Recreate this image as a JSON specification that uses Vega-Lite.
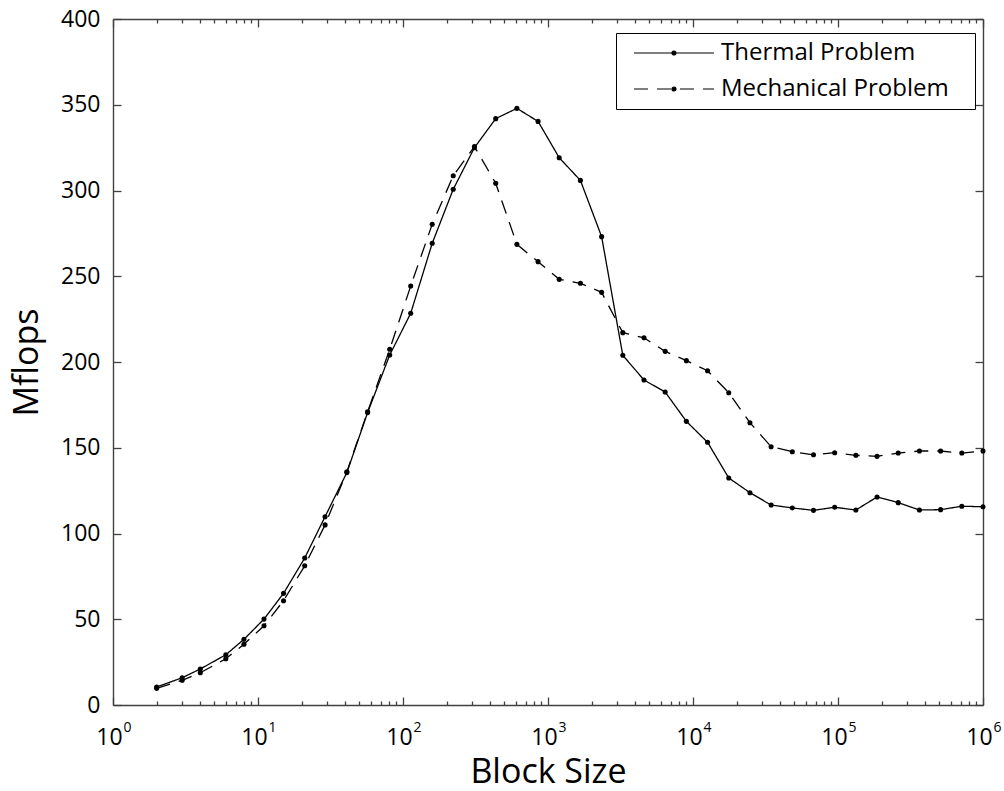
{
  "$schema": "https://vega.github.io/schema/vega-lite/v6.json",
  "autosize": {"type": "none"},
  "width": 870,
  "height": 686,
  "padding": {"left": 113, "top": 19, "right": 21, "bottom": 86},
  "background": "white",
  "config": {
    "view": {"stroke": null},
    "axis": {
      "grid": false,
      "domainColor": "#404040",
      "tickColor": "#404040",
      "domainWidth": 1.4,
      "tickWidth": 1.3,
      "labelFont": "Open Sans",
      "labelFontSize": 23,
      "labelColor": "black",
      "titleFont": "Open Sans",
      "titleFontSize": 34,
      "titleFontWeight": "normal",
      "titleColor": "black",
      "labelFlush": false,
      "labelOverlap": false,
      "labelBound": false
    }
  },
  "data": {
    "values": [
      {"size": 2, "series": "Thermal Problem", "mflops": 10.5},
      {"size": 3, "series": "Thermal Problem", "mflops": 15.9},
      {"size": 4, "series": "Thermal Problem", "mflops": 21.0},
      {"size": 6, "series": "Thermal Problem", "mflops": 29.3},
      {"size": 8, "series": "Thermal Problem", "mflops": 38.3},
      {"size": 11, "series": "Thermal Problem", "mflops": 50.1},
      {"size": 15, "series": "Thermal Problem", "mflops": 65.1},
      {"size": 21, "series": "Thermal Problem", "mflops": 85.7},
      {"size": 29, "series": "Thermal Problem", "mflops": 109.8},
      {"size": 41, "series": "Thermal Problem", "mflops": 135.5},
      {"size": 57, "series": "Thermal Problem", "mflops": 170.5},
      {"size": 81, "series": "Thermal Problem", "mflops": 204.1},
      {"size": 113, "series": "Thermal Problem", "mflops": 228.4},
      {"size": 159, "series": "Thermal Problem", "mflops": 269.2},
      {"size": 222, "series": "Thermal Problem", "mflops": 300.7},
      {"size": 311, "series": "Thermal Problem", "mflops": 325.0},
      {"size": 436, "series": "Thermal Problem", "mflops": 341.9},
      {"size": 610, "series": "Thermal Problem", "mflops": 347.9},
      {"size": 854, "series": "Thermal Problem", "mflops": 340.3},
      {"size": 1195, "series": "Thermal Problem", "mflops": 319.1},
      {"size": 1673, "series": "Thermal Problem", "mflops": 305.9},
      {"size": 2343, "series": "Thermal Problem", "mflops": 273.1},
      {"size": 3280, "series": "Thermal Problem", "mflops": 203.9},
      {"size": 4592, "series": "Thermal Problem", "mflops": 189.5},
      {"size": 6428, "series": "Thermal Problem", "mflops": 182.5},
      {"size": 9000, "series": "Thermal Problem", "mflops": 165.4},
      {"size": 12599, "series": "Thermal Problem", "mflops": 153.2},
      {"size": 17639, "series": "Thermal Problem", "mflops": 132.4},
      {"size": 24695, "series": "Thermal Problem", "mflops": 123.8},
      {"size": 34573, "series": "Thermal Problem", "mflops": 116.6},
      {"size": 48402, "series": "Thermal Problem", "mflops": 114.9},
      {"size": 67763, "series": "Thermal Problem", "mflops": 113.5},
      {"size": 94868, "series": "Thermal Problem", "mflops": 115.3},
      {"size": 132815, "series": "Thermal Problem", "mflops": 113.7},
      {"size": 185941, "series": "Thermal Problem", "mflops": 121.3},
      {"size": 260317, "series": "Thermal Problem", "mflops": 118.0},
      {"size": 364444, "series": "Thermal Problem", "mflops": 113.7},
      {"size": 510222, "series": "Thermal Problem", "mflops": 113.9},
      {"size": 714310, "series": "Thermal Problem", "mflops": 115.9},
      {"size": 1000000, "series": "Thermal Problem", "mflops": 115.6},
      {"size": 2, "series": "Mechanical Problem", "mflops": 9.7},
      {"size": 3, "series": "Mechanical Problem", "mflops": 14.4},
      {"size": 4, "series": "Mechanical Problem", "mflops": 18.8},
      {"size": 6, "series": "Mechanical Problem", "mflops": 27.0},
      {"size": 8, "series": "Mechanical Problem", "mflops": 35.4},
      {"size": 11, "series": "Mechanical Problem", "mflops": 46.2},
      {"size": 15, "series": "Mechanical Problem", "mflops": 60.8},
      {"size": 21, "series": "Mechanical Problem", "mflops": 81.2},
      {"size": 29, "series": "Mechanical Problem", "mflops": 105.0},
      {"size": 41, "series": "Mechanical Problem", "mflops": 136.0},
      {"size": 57, "series": "Mechanical Problem", "mflops": 171.0},
      {"size": 81, "series": "Mechanical Problem", "mflops": 207.4},
      {"size": 113, "series": "Mechanical Problem", "mflops": 244.3},
      {"size": 159, "series": "Mechanical Problem", "mflops": 280.3},
      {"size": 222, "series": "Mechanical Problem", "mflops": 308.6},
      {"size": 311, "series": "Mechanical Problem", "mflops": 325.6},
      {"size": 436, "series": "Mechanical Problem", "mflops": 304.2},
      {"size": 610, "series": "Mechanical Problem", "mflops": 268.6},
      {"size": 854, "series": "Mechanical Problem", "mflops": 258.5},
      {"size": 1195, "series": "Mechanical Problem", "mflops": 248.2},
      {"size": 1673, "series": "Mechanical Problem", "mflops": 245.9},
      {"size": 2343, "series": "Mechanical Problem", "mflops": 240.6},
      {"size": 3280, "series": "Mechanical Problem", "mflops": 217.1},
      {"size": 4592, "series": "Mechanical Problem", "mflops": 214.1},
      {"size": 6428, "series": "Mechanical Problem", "mflops": 206.2},
      {"size": 9000, "series": "Mechanical Problem", "mflops": 200.8},
      {"size": 12599, "series": "Mechanical Problem", "mflops": 194.9},
      {"size": 17639, "series": "Mechanical Problem", "mflops": 182.1},
      {"size": 24695, "series": "Mechanical Problem", "mflops": 164.6},
      {"size": 34573, "series": "Mechanical Problem", "mflops": 150.6},
      {"size": 48402, "series": "Mechanical Problem", "mflops": 147.7},
      {"size": 67763, "series": "Mechanical Problem", "mflops": 145.9},
      {"size": 94868, "series": "Mechanical Problem", "mflops": 147.1},
      {"size": 132815, "series": "Mechanical Problem", "mflops": 145.6},
      {"size": 185941, "series": "Mechanical Problem", "mflops": 145.0},
      {"size": 260317, "series": "Mechanical Problem", "mflops": 146.9},
      {"size": 364444, "series": "Mechanical Problem", "mflops": 148.1},
      {"size": 510222, "series": "Mechanical Problem", "mflops": 148.1},
      {"size": 714310, "series": "Mechanical Problem", "mflops": 146.9},
      {"size": 1000000, "series": "Mechanical Problem", "mflops": 148.1}
    ]
  },
  "layer": [
    {
      "mark": {"type": "line", "color": "black", "strokeWidth": 1.3, "clip": false},
      "encoding": {
        "x": {
          "field": "size", "type": "quantitative",
          "scale": {"type": "log", "domain": [1, 1000000], "nice": false},
          "axis": {
            "orient": "bottom",
            "values": [1, 10, 100, 1000, 10000, 100000, 1000000],
            "labelExpr": "'10'",
            "ticks": false,
            "labelPadding": 21,
            "labelOffset": -4,
            "labelBaseline": "top",
            "title": "Block Size",
            "titlePadding": 6
          }
        },
        "y": {
          "field": "mflops", "type": "quantitative",
          "scale": {"domain": [0, 400], "nice": false},
          "axis": {
            "orient": "left",
            "values": [0, 50, 100, 150, 200, 250, 300, 350, 400],
            "ticks": false,
            "labelPadding": 13,
            "title": "Mflops",
            "titlePadding": 16
          }
        },
        "strokeDash": {
          "field": "series", "type": "nominal",
          "scale": {"domain": ["Thermal Problem", "Mechanical Problem"], "range": [[1, 0], [14, 9]]},
          "legend": {
            "orient": "none",
            "legendX": 503,
            "legendY": 14,
            "title": null,
            "strokeColor": "black",
            "fillColor": "white",
            "padding": 8,
            "labelFont": "Open Sans",
            "labelFontSize": 24,
            "labelColor": "black",
            "labelLimit": 500,
            "labelExpr": "datum.label + '\u2800'",
            "labelOffset": 73,
            "rowPadding": 12,
            "symbolType": "M-0.2,0L7.8,0M4,0A0.2,0.2 0 1,1 3.6,0A0.2,0.2 0 1,1 4,0",
            "symbolSize": 400,
            "symbolStrokeWidth": 1.2,
            "symbolStrokeColor": "black",
            "symbolFillColor": "black",
            "encode": {
              "symbols": {
                "update": {
                  "fill": {"value": "black"},
                  "stroke": {"value": "black"},
                  "strokeDash": {"signal": "datum.value === 'Mechanical Problem' ? [19, 42] : [1, 0]"}
                }
              }
            }
          }
        }
      }
    },
    {
      "mark": {"type": "point", "filled": true, "color": "black", "size": 26, "opacity": 1, "clip": false},
      "encoding": {
        "x": {
          "field": "size", "type": "quantitative",
          "axis": {
            "orient": "top",
            "offset": -686,
            "values": [1, 10, 100, 1000, 10000, 100000, 1000000],
            "tickSize": 8,
            "labels": false,
            "domain": false,
            "title": null
          }
        },
        "y": {
          "field": "mflops", "type": "quantitative",
          "axis": {
            "orient": "left",
            "offset": -8,
            "values": [0, 50, 100, 150, 200, 250, 300, 350, 400],
            "tickSize": 8,
            "labels": false,
            "domain": false,
            "title": null
          }
        }
      }
    },
    {
      "mark": {"type": "point", "opacity": 0},
      "encoding": {
        "x": {
          "field": "size", "type": "quantitative",
          "axis": {
            "orient": "top",
            "offset": -686,
            "values": [2, 3, 4, 5, 6, 7, 8, 9, 20, 30, 40, 50, 60, 70, 80, 90, 200, 300, 400, 500, 600, 700, 800, 900, 2000, 3000, 4000, 5000, 6000, 7000, 8000, 9000, 20000, 30000, 40000, 50000, 60000, 70000, 80000, 90000, 200000, 300000, 400000, 500000, 600000, 700000, 800000, 900000],
            "tickSize": 4,
            "labels": false,
            "domain": false,
            "title": null
          }
        },
        "y": {
          "field": "mflops", "type": "quantitative",
          "axis": {
            "orient": "right",
            "values": [0, 50, 100, 150, 200, 250, 300, 350, 400],
            "ticks": false,
            "labels": false,
            "title": null
          }
        }
      }
    },
    {
      "mark": {"type": "point", "opacity": 0},
      "encoding": {
        "x": {
          "field": "size", "type": "quantitative",
          "axis": {
            "orient": "bottom",
            "values": [1, 10, 100, 1000, 10000, 100000, 1000000],
            "labelExpr": "'' + round(log(datum.value) / LN10)",
            "ticks": false,
            "domain": false,
            "labelFontSize": 14,
            "labelPadding": 15,
            "labelOffset": 14,
            "labelBaseline": "top",
            "title": null
          }
        },
        "y": {
          "field": "mflops", "type": "quantitative",
          "axis": {
            "orient": "right",
            "offset": -8,
            "values": [0, 50, 100, 150, 200, 250, 300, 350, 400],
            "tickSize": 8,
            "labels": false,
            "domain": false,
            "title": null
          }
        }
      }
    },
    {
      "mark": {"type": "point", "opacity": 0},
      "encoding": {
        "x": {
          "field": "size", "type": "quantitative",
          "axis": {
            "orient": "top",
            "values": [1, 10, 100, 1000, 10000, 100000, 1000000],
            "ticks": false,
            "labels": false,
            "title": null
          }
        },
        "y": {"field": "mflops", "type": "quantitative", "axis": null}
      }
    },
    {
      "mark": {"type": "point", "opacity": 0},
      "encoding": {
        "x": {
          "field": "size", "type": "quantitative",
          "axis": {
            "orient": "top",
            "offset": -8,
            "values": [1, 10, 100, 1000, 10000, 100000, 1000000],
            "tickSize": 8,
            "labels": false,
            "domain": false,
            "title": null
          }
        },
        "y": {"field": "mflops", "type": "quantitative", "axis": null}
      }
    },
    {
      "mark": {"type": "point", "opacity": 0},
      "encoding": {
        "x": {
          "field": "size", "type": "quantitative",
          "axis": {
            "orient": "top",
            "offset": -4,
            "values": [2, 3, 4, 5, 6, 7, 8, 9, 20, 30, 40, 50, 60, 70, 80, 90, 200, 300, 400, 500, 600, 700, 800, 900, 2000, 3000, 4000, 5000, 6000, 7000, 8000, 9000, 20000, 30000, 40000, 50000, 60000, 70000, 80000, 90000, 200000, 300000, 400000, 500000, 600000, 700000, 800000, 900000],
            "tickSize": 4,
            "labels": false,
            "domain": false,
            "title": null
          }
        },
        "y": {"field": "mflops", "type": "quantitative", "axis": null}
      }
    }
  ],
  "resolve": {"axis": {"x": "independent", "y": "independent"}}
}
